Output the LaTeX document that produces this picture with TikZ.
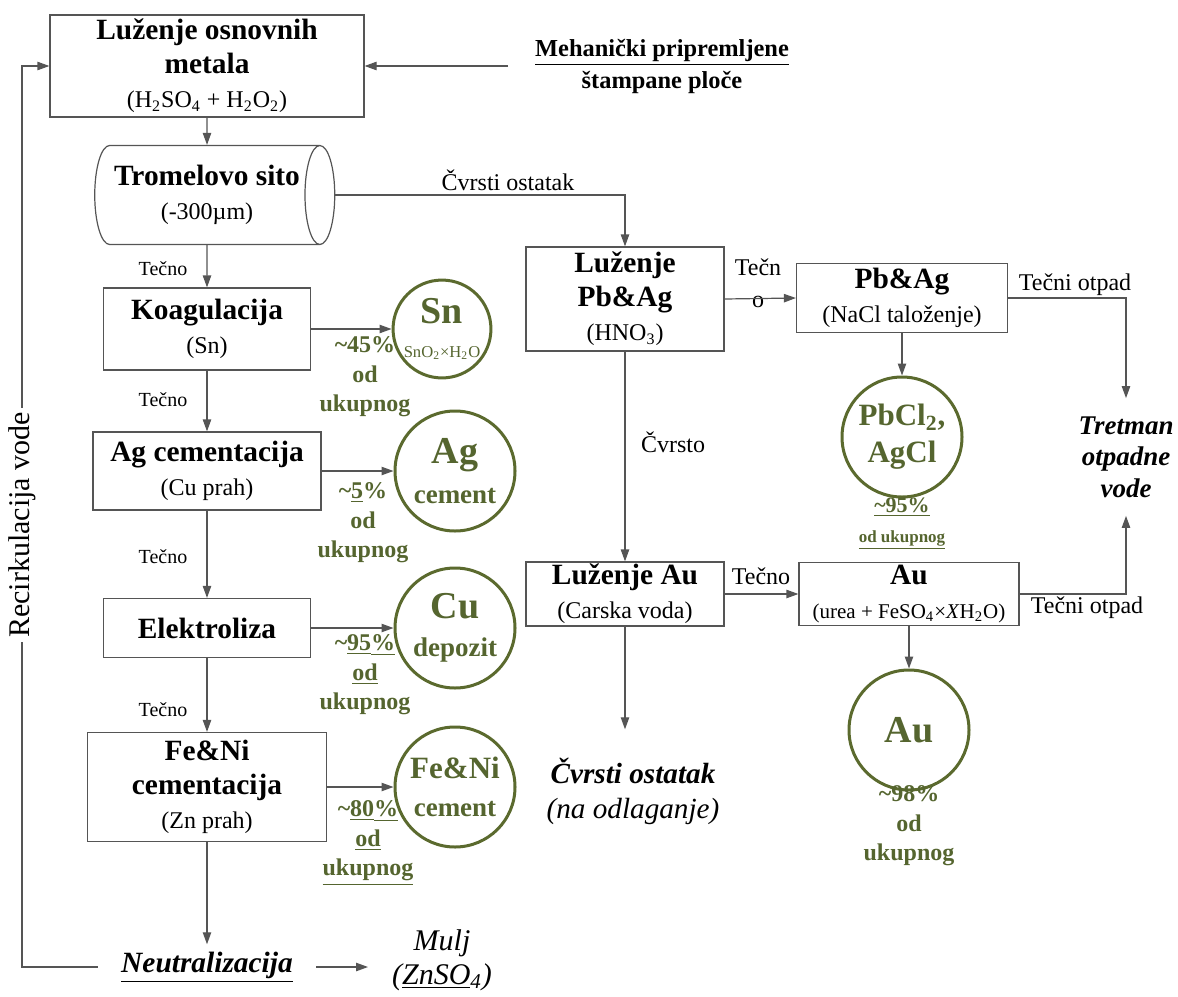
\documentclass[tikz,border=0pt]{standalone}
\usepackage{fontspec}
\setmainfont{Liberation Serif}
\usetikzlibrary{shapes.geometric,arrows.meta,positioning,calc}
\definecolor{linegray}{HTML}{555555}
\definecolor{prodgreen}{HTML}{5B6A2E}
\definecolor{prodtext}{HTML}{55652F}
\newcommand\bfbox{\fontsize{14.7}{17}\selectfont\bfseries}
\newcommand\subtx{\fontsize{12}{14}\selectfont\mdseries}

\begin{document}
\begin{tikzpicture}[x=0.5pt, y=-0.5pt,
  unit box/.style={draw=linegray, line width=0.6pt, fill=white, align=center, inner sep=0pt, font=\bfbox},
  prod/.style={circle, draw=prodgreen, line width=1.5pt, text=prodtext, align=center, inner sep=0pt, minimum size=60pt, font=\fontsize{13.5}{19}\selectfont\bfseries},
  yield/.style={text=prodtext, align=center, inner sep=0pt, font=\fontsize{12}{14.75}\selectfont\bfseries},
  flow/.style={draw=linegray, line width=0.6pt, -{Triangle[length=6pt,width=4.2pt]}},
  lbl/.style={inner sep=1pt, align=center, font=\fontsize{12}{16}\selectfont},
  small lbl/.style={inner sep=1pt, font=\fontsize{10}{12}\selectfont}
]
\useasboundingbox (0,0) rectangle (1178,996);

% left column
\node[unit box, minimum width=157pt, minimum height=51pt] (leach) at (207,66)
  {Luženje osnovnih\\metala\\{\subtx (H\textsubscript{2}SO\textsubscript{4} + H\textsubscript{2}O\textsubscript{2})}};
\node[cylinder, draw=linegray, line width=0.6pt, shape aspect=0.5, minimum width=49.5pt, minimum height=120pt,
  align=center, inner sep=0pt, font=\bfbox] (sito) at (207,195) {Tromelovo sito\\{\subtx (-300µm)}};
\node[unit box, minimum width=103.5pt, minimum height=41pt] (koag) at (207,329) {Koagulacija\\{\subtx (Sn)}};
\node[unit box, minimum width=114pt, minimum height=39pt] (agcem) at (207,471) {Ag cementacija\\{\subtx (Cu prah)}};
\node[unit box, minimum width=103.5pt, minimum height=29.5pt] (elek) at (207,628) {Elektroliza};
\node[unit box, minimum width=119.5pt, minimum height=54.5pt] (fenicem) at (207,787) {Fe\&Ni\\cementacija\\{\subtx (Zn prah)}};
\node[inner sep=3.5pt, font=\fontsize{14.7}{17}\selectfont\bfseries\itshape] (neut) at (207,967) {\underline{Neutralizacija}};
\node[align=center, font=\fontsize{15}{17}\selectfont\itshape] (mulj) at (442,960) {Mulj\\(\underline{ZnSO}\textsubscript{4})};

% products
\node[prod, minimum size=47.5pt, font=\fontsize{13.5}{17}\selectfont\bfseries] (sn) at (442,329)
  {{\fontsize{19}{17}\selectfont Sn}\\{\fontsize{8.3}{9}\selectfont\mdseries SnO\textsubscript{2}×H\textsubscript{2}O}};
\node[prod, font=\fontsize{13.5}{20}\selectfont\bfseries] (ag) at (455,471) {{\fontsize{19}{20}\selectfont Ag}\\cement};
\node[prod] (cu) at (455,628) {{\fontsize{19}{20}\selectfont Cu}\\depozit};
\node[prod] (feni) at (455,787) {{\fontsize{15.5}{18}\selectfont Fe\&Ni}\\cement};
\node[prod, font=\fontsize{15.5}{18.5}\selectfont\bfseries] (pbcl) at (902,437) {PbCl\textsubscript{2},\\AgCl};
\node[prod] (auc) at (909,730) {{\fontsize{19}{20}\selectfont Au}};

\node[yield] (snyield) at (365,377) {\textasciitilde45\%\\od\\ukupnog};
\node[yield] (agyield) at (363,523) {\textasciitilde\underline{5}\%\\od\\ukupnog};
\node[yield] (cuyield) at (365,675) {\textasciitilde\underline{95}\underline{\%}\\\underline{od}\\ukupnog};
\node[yield] (feniyield) at (368,843) {\textasciitilde\underline{80}\underline{\%}\\\underline{od}\\\underline{ukupnog}};
\node[yield] (pbclyield) at (902,524)
  {{\fontsize{11}{13}\selectfont\underline{\textasciitilde95\%}}\\{\fontsize{8.5}{11}\selectfont\underline{od ukupnog}}};
\node[yield] (auyield) at (909,826) {\textasciitilde98\%\\od\\ukupnog};

% right part
\node[align=center, inner sep=0pt, font=\fontsize{12.2}{16}\selectfont\bfseries] (pcb) at (662,66)
  {\underline{Mehanički pripremljene}\\štampane ploče};
\node[unit box, minimum width=99pt, minimum height=52pt] (pbleach) at (625,299) {Luženje\\Pb\&Ag\\{\subtx (HNO\textsubscript{3})}};
\node[unit box, minimum width=105.5pt, minimum height=34.5pt] (pbag) at (902,298) {Pb\&Ag\\{\subtx (NaCl taloženje)}};
\node[unit box, minimum width=99pt, minimum height=32pt] (auleach) at (625,594) {Luženje Au\\{\subtx (Carska voda)}};
\node[unit box, minimum width=110pt, minimum height=31.5pt] (aubox) at (909,594)
  {Au\\{\fontsize{10.5}{13}\selectfont\mdseries (urea + FeSO\textsubscript{4}×\textit{X}H\textsubscript{2}O)}};
\node[align=center, inner sep=14pt, font=\fontsize{14.6}{17.5}\selectfont\itshape] (solid) at (633,791)
  {\textbf{Čvrsti ostatak}\\(na odlaganje)};
\node[align=center, inner sep=9pt, font=\fontsize{13.5}{15.75}\selectfont\bfseries\itshape] (tretman) at (1126,457)
  {Tretman\\otpadne\\vode};

% stream labels
\foreach \y in {269,400,557,710}
  \node[small lbl] (liq\y) at (163,\y) {Tečno};
\node[lbl] (solidlbl) at (508,180) {Čvrsti ostatak};
\node[lbl] (liqpb) at (758,283) {Tečn\\o};
\node[lbl] (solidau) at (673,442) {Čvrsto};
\node[lbl] (liqau) at (761,576) {Tečno};
\node[lbl] (waste1) at (1075,285) {Tečni otpad};
\node[lbl] (waste2) at (1087,608) {Tečni otpad};

% flows
\coordinate (pcbin) at (508,66);
\coordinate (recbot) at (22,967);
\draw[flow] (pcbin) -- (leach.east);
\draw[flow] (leach.south) -- (sito.north);
\draw[flow] (sito.east) -| (pbleach.north);
\draw[flow] (sito.south) -- (koag.north);
\foreach \a/\b in {koag/agcem, agcem/elek, elek/fenicem, fenicem/neut}
  \draw[flow] (\a.south) -- (\b.north);
\foreach \a/\b in {koag/sn, agcem/ag, elek/cu, fenicem/feni}
  \draw[flow] (\a.east) -- (\b.west);
\draw[flow] ([xshift=8pt]neut.east) -- ([xshift=-8.5pt]mulj.west |- neut.east);
\draw[flow] ([xshift=-8pt]neut.west) -- (recbot) |- (leach.west);
\draw[flow] (pbleach.east) -- (pbag.west);
\draw[flow] (pbag.east) -| (tretman.north);
\draw[flow] (aubox.east) -| (tretman.south);
\draw[flow] (pbag.south) -- (pbcl.north);
\draw[flow] (pbleach.south) -- (auleach.north);
\draw[flow] (auleach.east) -- (aubox.west);
\draw[flow] (aubox.south) -- (auc.north);
\draw[flow] (auleach.south) -- (auleach.south |- solid.north);

\node[rotate=90, fill=white, inner sep=2pt, font=\fontsize{15}{17}\selectfont] (reclbl) at (22,525) {Recirkulacija vode};
\end{tikzpicture}
\end{document}
